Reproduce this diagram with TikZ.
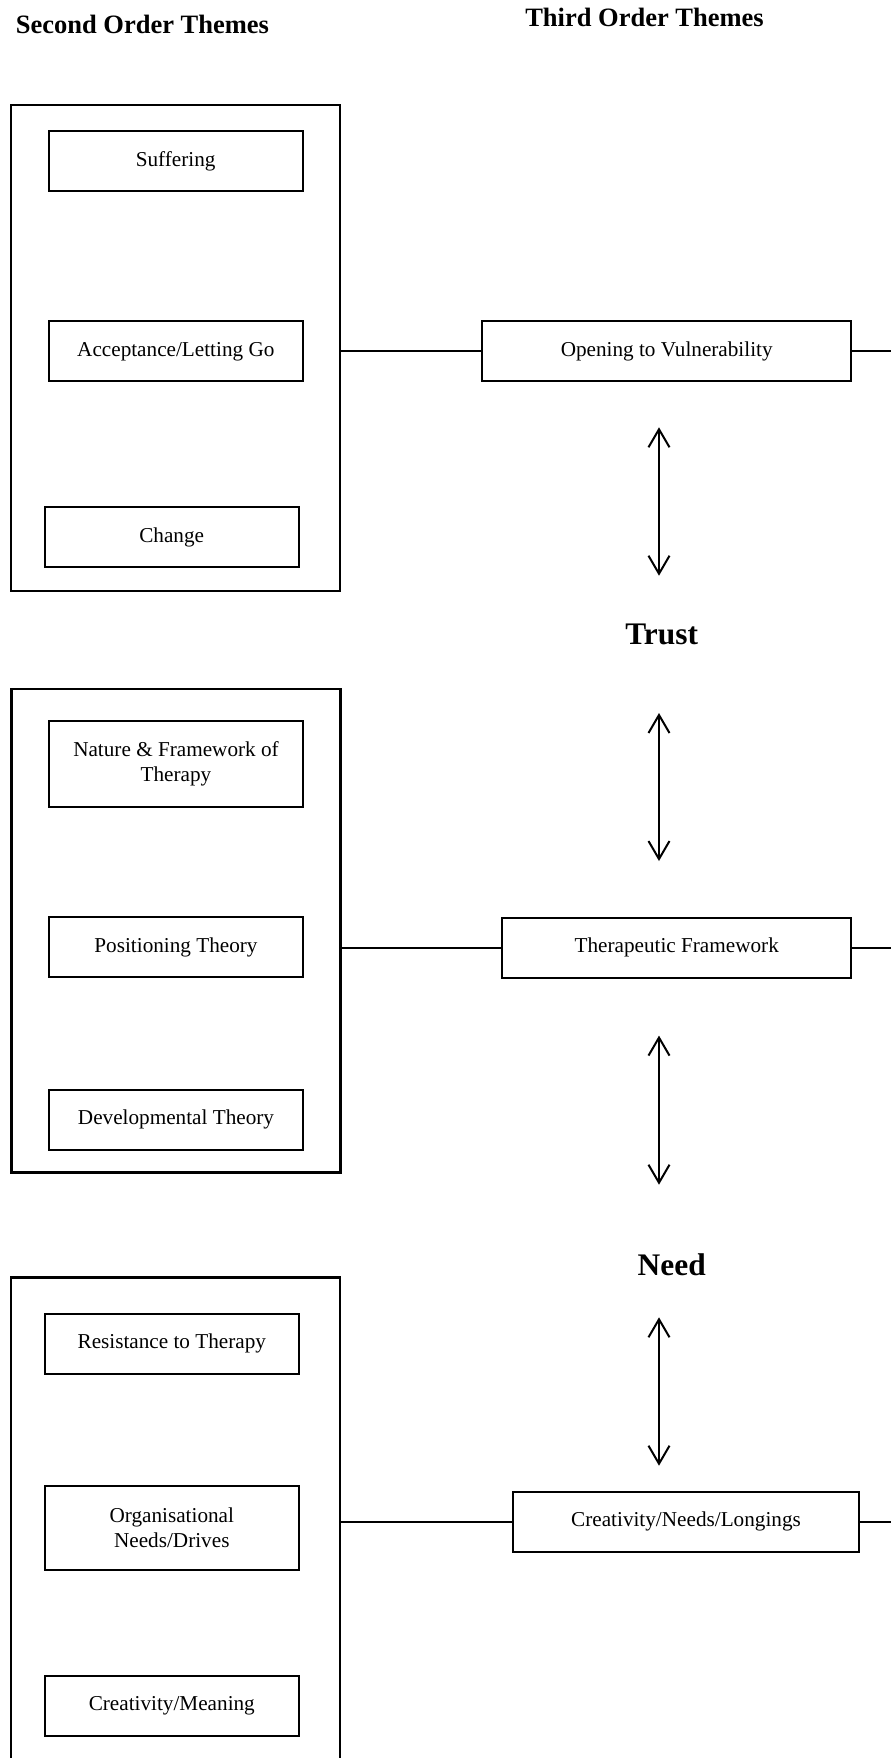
\documentclass[tikz,border=0pt]{standalone}
\usepackage{fontspec}
\setmainfont{Liberation Serif}
\usetikzlibrary{arrows.meta}
\begin{document}
\begin{tikzpicture}[x=0.5pt,y=-0.5pt,line width=1pt,
    sub/.style={draw,inner sep=0pt,align=center,minimum width=127pt,minimum height=30pt,
      font=\fontsize{10.6}{12.5}\selectfont},
    grp/.style={draw,line width=1.2pt,inner sep=0pt,minimum width=164.5pt},
    third/.style={sub,minimum width=174.3pt},
    head/.style={anchor=base,font=\fontsize{13.25}{15}\selectfont\bfseries},
    big/.style={anchor=base,font=\fontsize{15.7}{18}\selectfont\bfseries},
    dbl/.style={{Straight Barb[length=9pt,width=10.5pt]}-{Straight Barb[length=9pt,width=10.5pt]}}]
      \useasboundingbox (0,0) rectangle (891,1758);
      \clip (0,0) rectangle (891,1758);
      % headings
      \node [head] (h2) at (142.4,33) {Second Order Themes};
      \node [head] (h3) at (644.5,26.5) {Third Order Themes};
      % second order groups
      \node [grp,minimum height=243pt] (g1) at (175.5,348) {};
      \node [grp,minimum height=241.8pt] (g2) at (175.8,930.8) {};
      \node [grp,minimum height=261.3pt] (g3) at (175.5,1538.7) {};
      \node [sub] (suf) at (175.7,161.3) {Suffering};
      \node [sub] (acc) at (175.8,351.3) {Acceptance/Letting Go};
      \node [sub] (chg) at (171.7,537.2) {Change};
      \node [sub,minimum height=43.2pt] (nat) at (176,764.2) {Nature \& Framework of\\Therapy};
      \node [sub] (pos) at (176,947.3) {Positioning Theory};
      \node [sub] (dev) at (176,1119.7) {Developmental Theory};
      \node [sub] (res) at (171.8,1343.7) {Resistance to Therapy};
      \node [sub,minimum height=42.2pt] (org) at (171.8,1527.8) {Organisational\\Needs/Drives};
      \node [sub] (crm) at (171.8,1705.8) {Creativity/Meaning};
      % third order themes
      \node [third,minimum width=184.3pt] (opn) at (666.7,351) {Opening to Vulnerability};
      \node [third] (thf) at (676.7,947.7) {Therapeutic Framework};
      \node [third,minimum width=173.3pt] (cnl) at (686,1521.8) {Creativity/Needs/Longings};
      \node [big] (trust) at (661.7,644.3) {Trust};
      \node [big] (need) at (671.7,1275) {Need};
      \coordinate (e1) at (891,351);
      \coordinate (e2) at (891,947.7);
      \coordinate (e3) at (891,1521.8);
      \draw (g1.east |- opn) -- (opn);
      \draw (g2.east |- thf) -- (thf);
      \draw (g3.east |- cnl) -- (cnl);
      \draw (opn) -- (e1);
      \draw (thf) -- (e2);
      \draw (cnl) -- (e3);
      % double arrows
      \coordinate (u1) at (659,427.3);
      \coordinate (d1) at (659,575.7);
      \coordinate (u2) at (659,713);
      \coordinate (d2) at (659,861);
      \coordinate (u3) at (659,1035.6);
      \coordinate (d3) at (659,1184.7);
      \coordinate (u4) at (659,1317.3);
      \coordinate (d4) at (659,1465.7);
      \draw [dbl] (u1) -- (d1);
      \draw [dbl] (u2) -- (d2);
      \draw [dbl] (u3) -- (d3);
      \draw [dbl] (u4) -- (d4);
    \end{tikzpicture}
\end{document}
